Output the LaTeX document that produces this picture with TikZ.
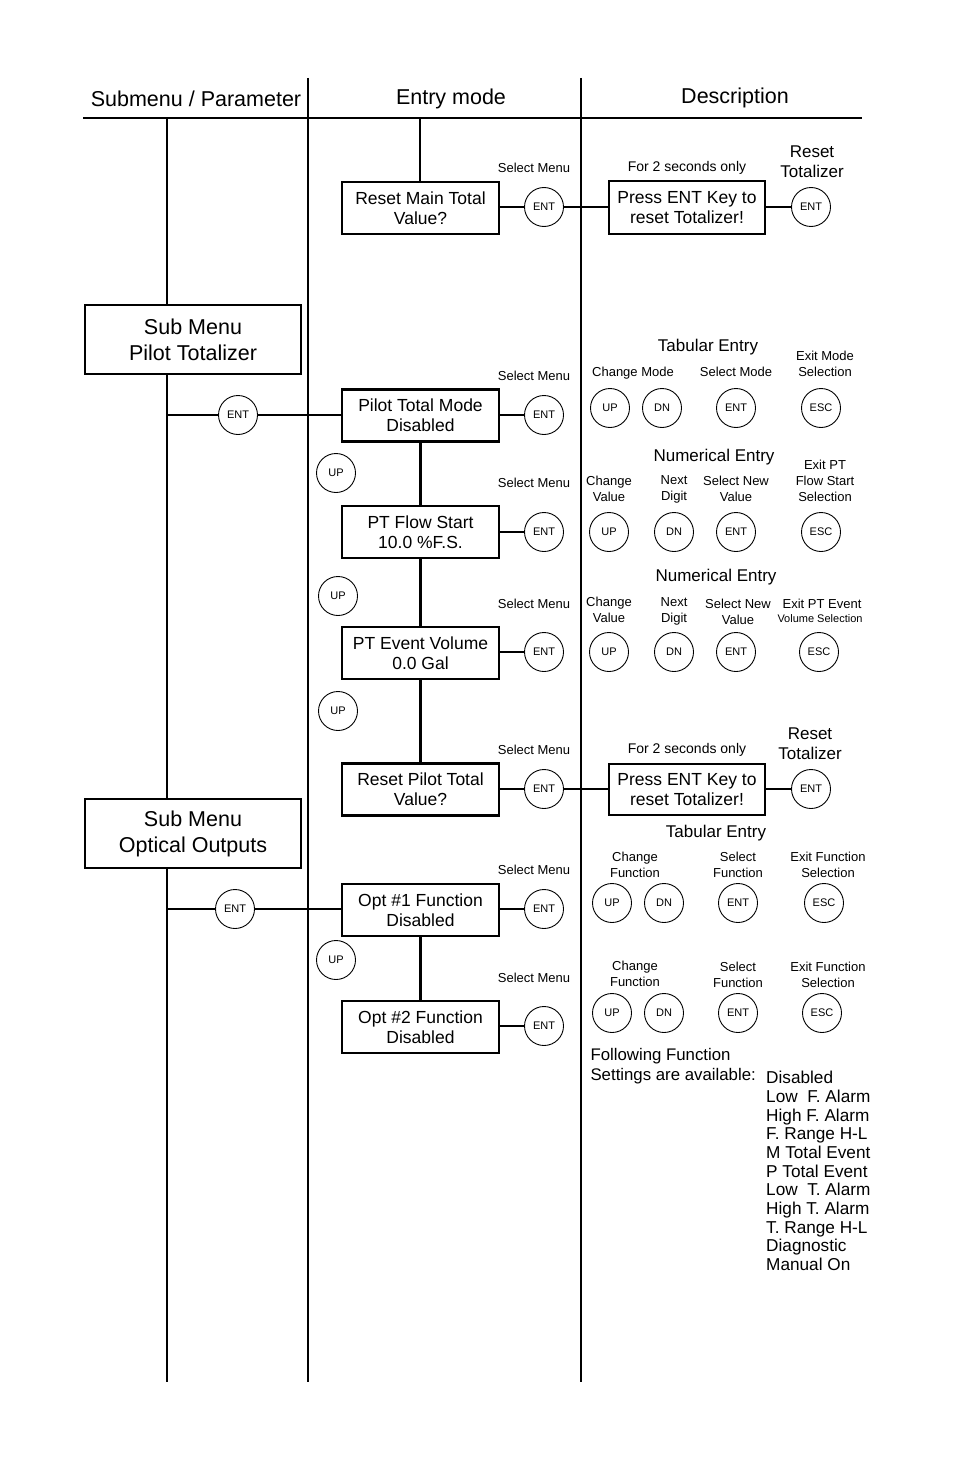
\documentclass[tikz,border=0pt]{standalone}
\usepackage{fontspec}
\setmainfont{Liberation Sans}
\begin{document}
\begin{tikzpicture}[x=1pt,y=-1pt,
  box/.style={draw,line width=2.2pt,minimum width=157pt,minimum height=52pt,inner sep=0pt,align=center,font=\fontsize{17.5}{20}\selectfont},
  bigbox/.style={draw,line width=2.2pt,minimum width=216pt,minimum height=69pt,inner sep=0pt,align=center,font=\fontsize{21.5}{26}\selectfont},
  key/.style={draw,circle,line width=0.9pt,minimum size=39pt,inner sep=0pt,font=\fontsize{11}{12}\selectfont},
  sel/.style={font=\fontsize{13}{15}\selectfont},
  lbl/.style={align=center,font=\fontsize{13}{16}\selectfont},
  ttl/.style={font=\fontsize{17}{20}\selectfont},
  hdr/.style={font=\fontsize{21.5}{24}\selectfont},
  col/.style={line width=2.2pt},
  con/.style={line width=1.5pt}]
\useasboundingbox (0,0) rectangle (954,1474);

% headers
\node[hdr] (h1) at (196,99) {Submenu / Parameter};
\node[hdr] (h2) at (451,99) {Entry mode};
\node[hdr] (h3) at (735,98) {Description};
\coordinate (hl) at (83,118);
\coordinate (hr) at (862,118);
\draw[col] (hl) -- (hr);
\coordinate (c2t) at (308,78); \coordinate (c2b) at (308,1382);
\coordinate (c3t) at (581,78); \coordinate (c3b) at (581,1382);
\draw[col] (c2t) -- (c2b);
\draw[col] (c3t) -- (c3b);

% left column
\node[bigbox] (spt) at (193,339.5) {Sub Menu\\Pilot Totalizer};
\node[bigbox] (sop) at (193,833.5) {Sub Menu\\Optical Outputs};
\coordinate (l0) at (167,118);
\coordinate (l1) at (167,1382);
\draw[col] (l0) -- (l0 |- spt.north);
\draw[col] (l0 |- spt.south) -- (l0 |- sop.north);
\draw[col] (l0 |- sop.south) -- (l1);

% entry mode boxes
\node[box] (rmt) at (420.5,208) {Reset Main Total\\Value?};
\node[box] (ptm) at (420.5,415.5) {Pilot Total Mode\\Disabled};
\node[box] (pfs) at (420.5,532) {PT Flow Start\\10.0 \%F.S.};
\node[box] (pev) at (420.5,653) {PT Event Volume\\0.0 Gal};
\node[box] (rpt) at (420.5,789.5) {Reset Pilot Total\\Value?};
\node[box] (o1) at (420.5,910) {Opt \#1 Function\\Disabled};
\node[box] (o2) at (420.5,1027) {Opt \#2 Function\\Disabled};

\coordinate (s0) at (420,118);
\draw[col] (s0) -- (s0 |- rmt.north);
\draw[col] (ptm.south) -- (pfs.north);
\draw[col] (pfs.south) -- (pev.north);
\draw[col] (pev.south) -- (rpt.north);
\draw[col] (o1.south) -- (o2.north);

% UP keys on spine
\node[key] (u1) at (336,473) {UP};
\node[key] (u2) at (338,596) {UP};
\node[key] (u3) at (338,711) {UP};
\node[key] (u4) at (336,960) {UP};

% left ENT keys
\node[key] (le1) at (238,415) {ENT};
\node[key] (le2) at (235,909) {ENT};
\coordinate (j1) at (167,415);
\coordinate (j2) at (167,909);
\draw[con] (j1) -- (le1.west);
\draw[con] (le1.east) -- (le1.east -| ptm.west);
\draw[con] (j2) -- (le2.west);
\draw[con] (le2.east) -- (le2.east -| o1.west);

% right ENT keys and Select Menu
\node[key] (re1) at (544,207) {ENT};
\node[key] (re2) at (544,415) {ENT};
\node[key] (re3) at (544,532) {ENT};
\node[key] (re4) at (544,652) {ENT};
\node[key] (re5) at (544,789) {ENT};
\node[key] (re6) at (544,909) {ENT};
\node[key] (re7) at (544,1026) {ENT};
\foreach \n/\y in {1/168,2/376,3/483,4/604,5/750,6/870,7/978}
  \node[sel] (sm\n) at (534,\y) {Select Menu};
\draw[con] (rmt.east |- re1) -- (re1.west);
\draw[con] (ptm.east |- re2) -- (re2.west);
\draw[con] (pfs.east |- re3) -- (re3.west);
\draw[con] (pev.east |- re4) -- (re4.west);
\draw[con] (rpt.east |- re5) -- (re5.west);
\draw[con] (o1.east |- re6) -- (re6.west);
\draw[con] (o2.east |- re7) -- (re7.west);

% description: reset boxes
\node[box,minimum width=156pt,minimum height=53pt] (pe1) at (687,207.5) {Press ENT Key to\\reset Totalizer!};
\node[box,minimum width=156pt,minimum height=51pt] (pe2) at (687,789.5) {Press ENT Key to\\reset Totalizer!};
\node[font=\fontsize{14}{16}\selectfont] (f1) at (687,168) {For 2 seconds only};
\node[font=\fontsize{14}{16}\selectfont] (f2) at (687,750) {For 2 seconds only};
\node[key] (rk1) at (811,207) {ENT};
\node[key] (rk2) at (811,789) {ENT};
\node[ttl,align=center] (rt1) at (812,161.5) {Reset\\Totalizer};
\node[ttl,align=center] (rt2) at (810,743.5) {Reset\\Totalizer};
\draw[con] (re1.east) -- (pe1.west |- re1);
\draw[con] (pe1.east |- rk1) -- (rk1.west);
\draw[con] (re5.east) -- (pe2.west |- re5);
\draw[con] (pe2.east |- rk2) -- (rk2.west);

% Tabular entry (mode)
\node[ttl] (t1) at (708,347) {Tabular Entry};
\node[lbl] (a1) at (633,373) {Change Mode};
\node[lbl] (a2) at (736,372) {Select Mode};
\node[lbl] (a3) at (825,364) {Exit Mode\\Selection};
\node[key] (k11) at (610,408) {UP};
\node[key] (k12) at (662,408) {DN};
\node[key] (k13) at (736,408) {ENT};
\node[key] (k14) at (821,408) {ESC};

% Numerical entry (flow start)
\node[ttl] (t2) at (714,457) {Numerical Entry};
\node[lbl] (b1) at (609,489) {Change\\Value};
\node[lbl] (b2) at (674,489) {Next\\Digit};
\node[lbl] (b3) at (736,489) {Select New\\Value};
\node[lbl] (b4) at (825,481) {Exit PT\\Flow Start\\Selection};
\node[key] (k21) at (609,532) {UP};
\node[key] (k22) at (674,532) {DN};
\node[key] (k23) at (736,532) {ENT};
\node[key] (k24) at (821,532) {ESC};

% Numerical entry (event volume)
\node[ttl] (t3) at (716,577) {Numerical Entry};
\node[lbl] (c1) at (609,610) {Change\\Value};
\node[lbl] (c2) at (674,611.5) {Next\\Digit};
\node[lbl] (c3) at (738,611.5) {Select New\\Value};
\node[lbl] (c4) at (822,604) {Exit PT Event};
\node[font=\fontsize{11}{13}\selectfont] (c5) at (820,619) {Volume Selection};
\node[key] (k31) at (609,652) {UP};
\node[key] (k32) at (674,652) {DN};
\node[key] (k33) at (736,652) {ENT};
\node[key] (k34) at (819,652) {ESC};

% Tabular entry (function 1)
\node[ttl] (t4) at (716,833) {Tabular Entry};
\node[lbl] (d1) at (635,865) {Change\\Function};
\node[lbl] (d2) at (738,864.5) {Select\\Function};
\node[lbl] (d3) at (828,864.5) {Exit Function\\Selection};
\node[key] (k41) at (612,903) {UP};
\node[key] (k42) at (664,903) {DN};
\node[key] (k43) at (738,903) {ENT};
\node[key] (k44) at (824,903) {ESC};

% function 2
\node[lbl] (e1) at (635,973.5) {Change\\Function};
\node[lbl] (e2) at (738,974.5) {Select\\Function};
\node[lbl] (e3) at (828,974.5) {Exit Function\\Selection};
\node[key] (k51) at (612,1013) {UP};
\node[key] (k52) at (664,1013) {DN};
\node[key] (k53) at (738,1013) {ENT};
\node[key] (k54) at (822,1013) {ESC};

% settings list
\node[anchor=west,align=left,font=\fontsize{16.8}{20}\selectfont] (fs) at (587,1066) {Following Function\\Settings are available:};
\node[anchor=north west,align=left,font=\fontsize{17.2}{18.7}\selectfont,inner sep=0pt] (lst) at (766,1071)
  {Disabled\\Low\ \ F. Alarm\\High F. Alarm\\F. Range H-L\\M Total Event\\P Total Event\\Low\ \ T. Alarm\\High T. Alarm\\T. Range H-L\\Diagnostic\\Manual On};
\end{tikzpicture}
\end{document}
